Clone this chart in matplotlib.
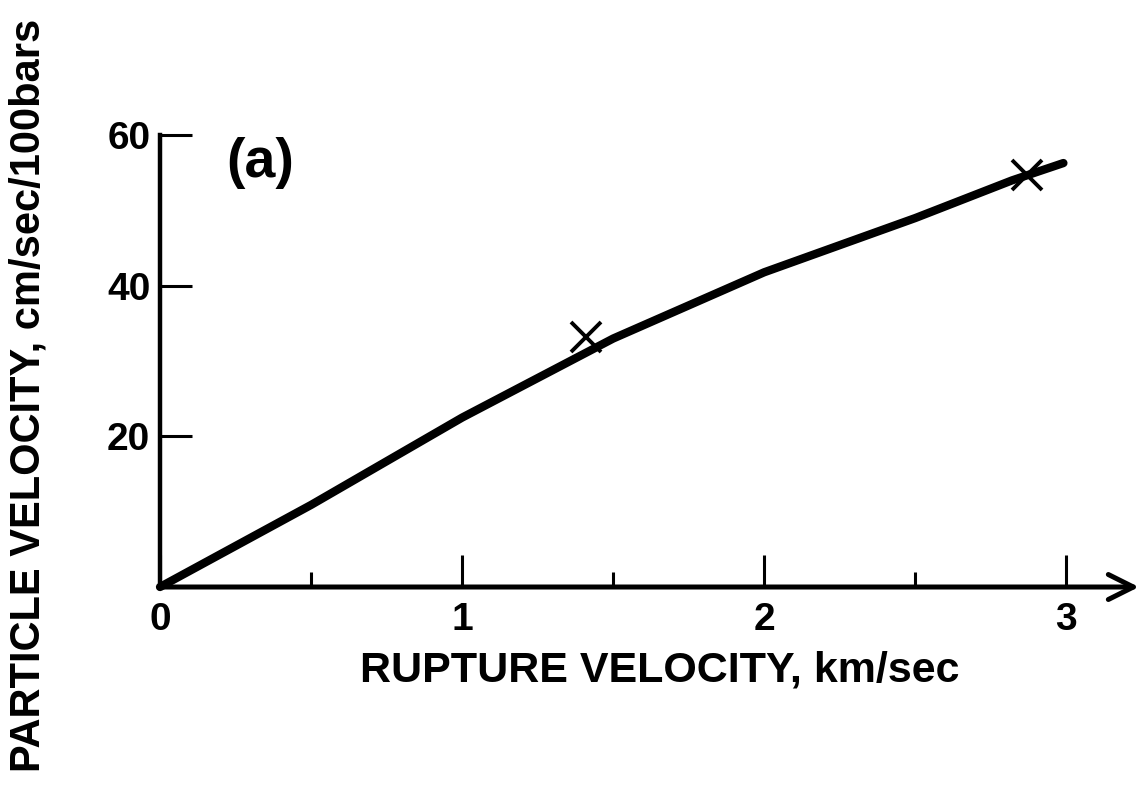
import matplotlib
matplotlib.use("Agg")
import matplotlib.pyplot as plt

plt.rcParams['font.family'] = ['Liberation Sans', 'DejaVu Sans']
plt.rcParams['font.weight'] = 'bold'

# curve read along its length: rupture velocity (km/sec) vs particle velocity
rupture_v = [0.0, 0.5, 1.0, 1.5, 2.0, 2.5, 2.82, 2.99]
particle_v = [0.0, 10.9, 22.5, 33.0, 41.8, 49.0, 54.0, 56.3]

# crosses marked on the curve
cross_x = [1.41, 2.87]
cross_y = [33.2, 54.7]

x_ticks = [0, 1, 2, 3]
x_minor = [0.5, 1.5, 2.5]
y_ticks = [20, 40, 60]

fig = plt.figure(figsize=(11.43, 7.94), dpi=100)
ax = fig.add_axes([0.14, 0.2607, 0.8723, 0.588])

ax.plot(rupture_v, particle_v, color='black', lw=6.0, solid_capstyle='round', clip_on=False)
ax.plot(cross_x, cross_y, ls='none', marker='x', ms=21, mew=2.8, color='black', clip_on=False)

ax.set_xlim(0, 3.3)
ax.set_ylim(0, 62)

for s in ['top', 'right', 'bottom']:
    ax.spines[s].set_visible(False)
ax.spines['left'].set_bounds(0, 60)
ax.spines['left'].set_linewidth(3.2)

# x axis drawn as an arrow
ax.annotate('', xy=(3.24, 0), xytext=(0, 0), xycoords='data',
            arrowprops=dict(arrowstyle='->', lw=3.6, color='black', mutation_scale=45,
                            shrinkA=0, shrinkB=0), annotation_clip=False)

ax.set_xticks(x_ticks)
ax.set_xticklabels([str(v) for v in x_ticks])
ax.set_xticks(x_minor, minor=True)
ax.set_yticks(y_ticks)
ax.set_yticklabels([str(v) for v in y_ticks])

ax.tick_params(axis='x', which='major', direction='in', length=23, width=2.2,
               pad=11, labelsize=28)
ax.tick_params(axis='x', which='minor', direction='in', length=11, width=2.2)
ax.tick_params(axis='y', which='major', direction='in', length=23, width=2.2,
               pad=7, labelsize=28)

ax.text(0.33, 56.3, '(a)', fontsize=40, fontweight='bold', ha='center', va='center')

ax.set_xlabel('RUPTURE VELOCITY, km/sec', fontsize=31, fontweight='bold')
ax.xaxis.set_label_coords(0.5015, -0.135)
ax.set_ylabel('PARTICLE VELOCITY, cm/sec/100bars', fontsize=30, fontweight='bold')
ax.yaxis.set_label_coords(-0.112, 0.411)

fig.savefig('out.png', dpi=100, facecolor='white')
